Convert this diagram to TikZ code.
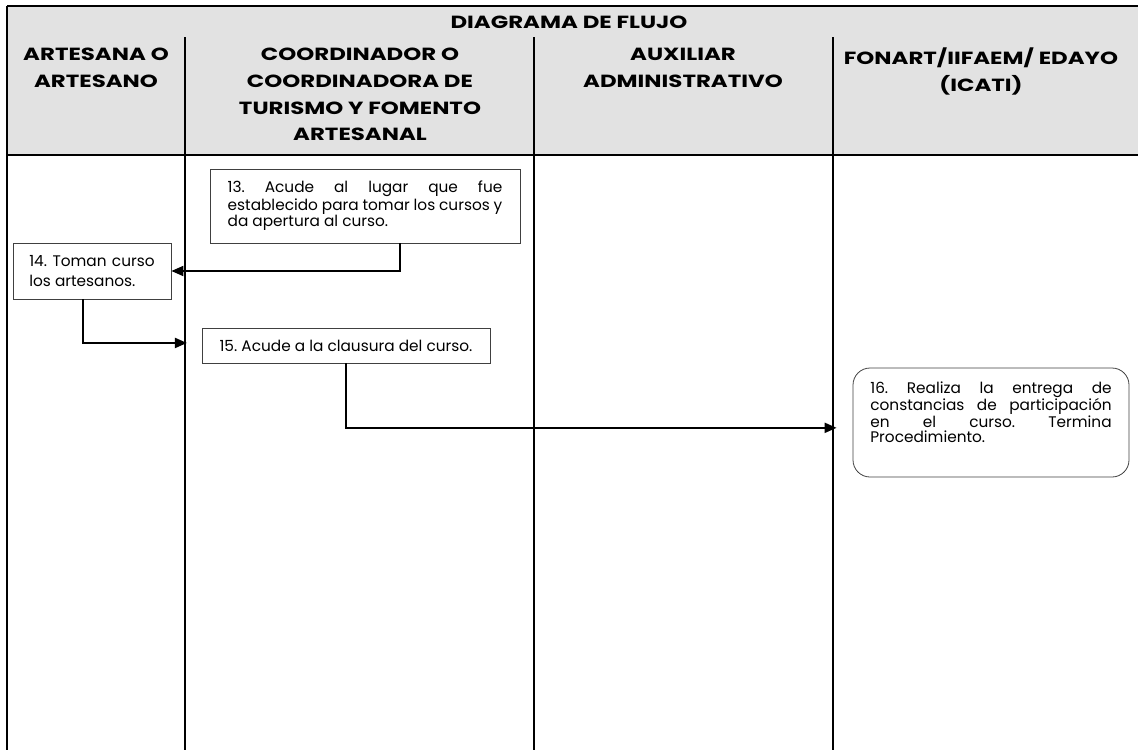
\documentclass[tikz,border=0pt]{standalone}
\usepackage{fontspec}
\setmainfont{Poppins}[FakeStretch=1.3]
\newfontfamily\stepfont{Poppins}
\usetikzlibrary{arrows.meta,positioning}
\definecolor{headgray}{HTML}{E2E2E2}
\definecolor{boxline}{HTML}{404040}
\frenchspacing

\tikzset{
  head/.style={font=\bfseries\fontsize{13.2}{20}\selectfont, align=center, inner sep=0pt, anchor=north},
  stepbox/.style={draw=boxline, line width=0.6pt, fill=white, font=\stepfont\fontsize{11.5}{10.8}\selectfont},
  flow/.style={line width=1.5pt, -{Triangle[length=9pt,width=7.5pt]}}
}

\begin{document}
\begin{tikzpicture}[x=0.75pt,y=-0.75pt]
    \useasboundingbox (0,0) rectangle (1138,750);

    % Table head
    \fill[headgray] (7,6) rectangle (1138,155);
    \draw[line width=0.8pt] (7,6) -- (1138,6);
    \draw[line width=0.8pt] (7,155) -- (1138,155);
    \draw[line width=0.8pt] (7,6) -- (7,750);
    \foreach \x in {185,534,833}
        \draw[line width=0.8pt] (\x,37) -- (\x,750);

    \node[head, anchor=center] (title) at (569,22) {DIAGRAMA DE FLUJO};
    \node[head] (artesano) at (96,48) {ARTESANA O\\ARTESANO};
    \node[head] (coord) at (360,48) {COORDINADOR O\\COORDINADORA DE\\TURISMO Y FOMENTO\\ARTESANAL};
    \node[head] (auxiliar) at (683,48) {AUXILIAR\\ADMINISTRATIVO};
    \node[head] (fonart) at (981,48) {FONART/IIFAEM/ EDAYO\\(ICATI)};

    % Steps
    \node[stepbox, text width=206pt, align=justify, inner xsep=13.25pt, minimum height=55.5pt] (b13) at (365,206)
        {13. Acude al lugar que fue\linebreak establecido para tomar los cursos y\linebreak da apertura al curso.};
    \node[stepbox, text width=94pt, align=justify, inner xsep=12.25pt, minimum height=42pt,
          font=\stepfont\fontsize{11.5}{15}\selectfont] (b14) at (92,271)
        {14. Toman curso\linebreak los artesanos.};
    \node[stepbox, minimum width=216pt, minimum height=26.25pt] (b15) at (346,345.5)
        {15. Acude a la clausura del curso.};
    \node[stepbox, rounded corners=12.75pt, text width=181pt, align=justify, inner xsep=13pt, minimum height=81.75pt] (b16) at (991,422.5)
        {16. Realiza la entrega de\linebreak constancias de participación\linebreak en el curso. Termina\linebreak Procedimiento.\par\rule{0pt}{15pt}};

    % Connectors
    \draw[flow] ([xshift=26.25pt]b13.south) |- (b14.east);
    \draw[flow, shorten >=11pt] ([xshift=-6.75pt]b14.south) |- ([yshift=1.9pt]b15.west);
    \draw[flow, shorten >=12pt] (b15.south) |- ([yshift=-4pt]b16.west);
\end{tikzpicture}
\end{document}
